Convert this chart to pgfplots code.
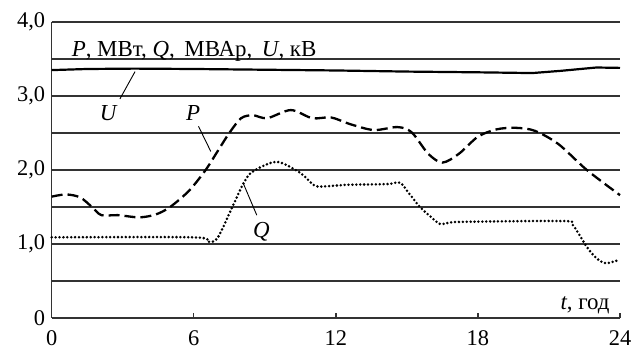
\documentclass[border=0pt]{standalone}
\usepackage{fontspec}
\setmainfont{Liberation Serif}
\usepackage{pgfplots}
\pgfplotsset{compat=1.18}
\begin{document}
\begin{tikzpicture}
\path[use as bounding box] (0,0) rectangle (644bp,359bp);
\begin{axis}[
 at={(51.7bp,41bp)}, anchor=south west,
 scale only axis, width=568.3bp, height=296bp,
 xmin=0,xmax=24,ymin=0,ymax=4,
 axis x line*=bottom, axis y line*=left,
 axis line style={-, line width=1.3bp, black!80},
 xtick={0,6,12,18,24}, ytick={0,1,2,3,4},
 yticklabels={0,{1,0},{2,0},{3,0},{4,0}},
 minor ytick={0.5,1.5,2.5,3.5},
 ymajorgrids, yminorgrids,
 grid style={line width=1.2bp, black!80},
 minor grid style={line width=1.2bp, black!80},
 tick align=inside, major tick length=5bp, minor tick length=0pt,
 ytick style={draw=none}, xtick style={line width=1.3bp, black!80},
 ticklabel style={font=\fontsize{22.5}{26}\selectfont},
 /pgf/number format/assume math mode=true,
 xticklabel style={yshift=-9bp}, yticklabel style={xshift=-3bp},
 clip=false,
]
% U
\addplot[black, line width=2.2bp] coordinates {
(0,3.35) (1.5,3.365) (3.5,3.37) (6,3.365) (9,3.355) (12,3.345) (15,3.33) (18,3.32) (20.3,3.31) (21.5,3.34) (23.0,3.385) (24,3.38)};
% P
\addplot[black, line width=2.3bp, dash pattern=on 11bp off 5bp, smooth, tension=0.5] coordinates {
(0,1.64) (0.6,1.67) (1.2,1.63) (1.7,1.50) (2.1,1.39) (2.8,1.39) (3.7,1.36) (4.4,1.40) (5.0,1.50) (5.8,1.72) (6.5,2.00) (7.0,2.25) (7.5,2.50) (8.0,2.70) (8.5,2.74) (9.1,2.70) (10.1,2.81) (11.0,2.70) (11.8,2.71) (12.6,2.62) (13.6,2.54) (14.6,2.58) (15.2,2.51) (15.9,2.22) (16.5,2.10) (17.2,2.22) (18.0,2.45) (18.8,2.55) (19.6,2.57) (20.4,2.53) (21.4,2.35) (22.6,2.00) (24,1.66)};
% Q
\addplot[black, line width=2.8bp, dash pattern=on 0bp off 3.9bp, line cap=round, smooth, tension=0.5] coordinates {
(0,1.09) (6.0,1.09) (6.6,1.03) (7.0,1.08) (7.6,1.48) (8.1,1.82) (8.5,1.98) (9.5,2.11) (10.5,1.96) (11.1,1.79) (11.6,1.78) (12.5,1.80) (14.2,1.81) (14.7,1.83) (15.1,1.68) (15.55,1.50) (16.0,1.37) (16.4,1.27) (16.8,1.29) (17.5,1.30) (21.6,1.31) (22.0,1.26) (22.6,0.96) (23.0,0.81) (23.4,0.74) (24,0.79)};
% leaders and labels
\draw[line width=0.9bp] (axis cs:3.52,3.33) -- (axis cs:2.88,2.96);
\draw[line width=0.9bp] (axis cs:6.20,2.59) -- (axis cs:6.72,2.25);
\draw[line width=0.9bp] (axis cs:8.09,1.82) -- (axis cs:8.66,1.39);
\node[font=\fontsize{23}{27}\selectfont\itshape] at (axis cs:2.38,2.77) {U};
\node[font=\fontsize{23}{27}\selectfont\itshape] at (axis cs:5.97,2.77) {P};
\node[font=\fontsize{23}{27}\selectfont\itshape] at (axis cs:8.86,1.17) {Q};
\node[font=\fontsize{23}{27}\selectfont, anchor=base west, inner sep=0pt] at (axis cs:0.84,3.53) {\textit{P}, МВт, \textit{Q},\, МВАр,\, \textit{U}, кВ};
\node[font=\fontsize{23}{27}\selectfont, anchor=base east, inner sep=0pt] at (axis cs:23.57,0.12) {\textit{t}, год};
\end{axis}
\end{tikzpicture}
\end{document}
